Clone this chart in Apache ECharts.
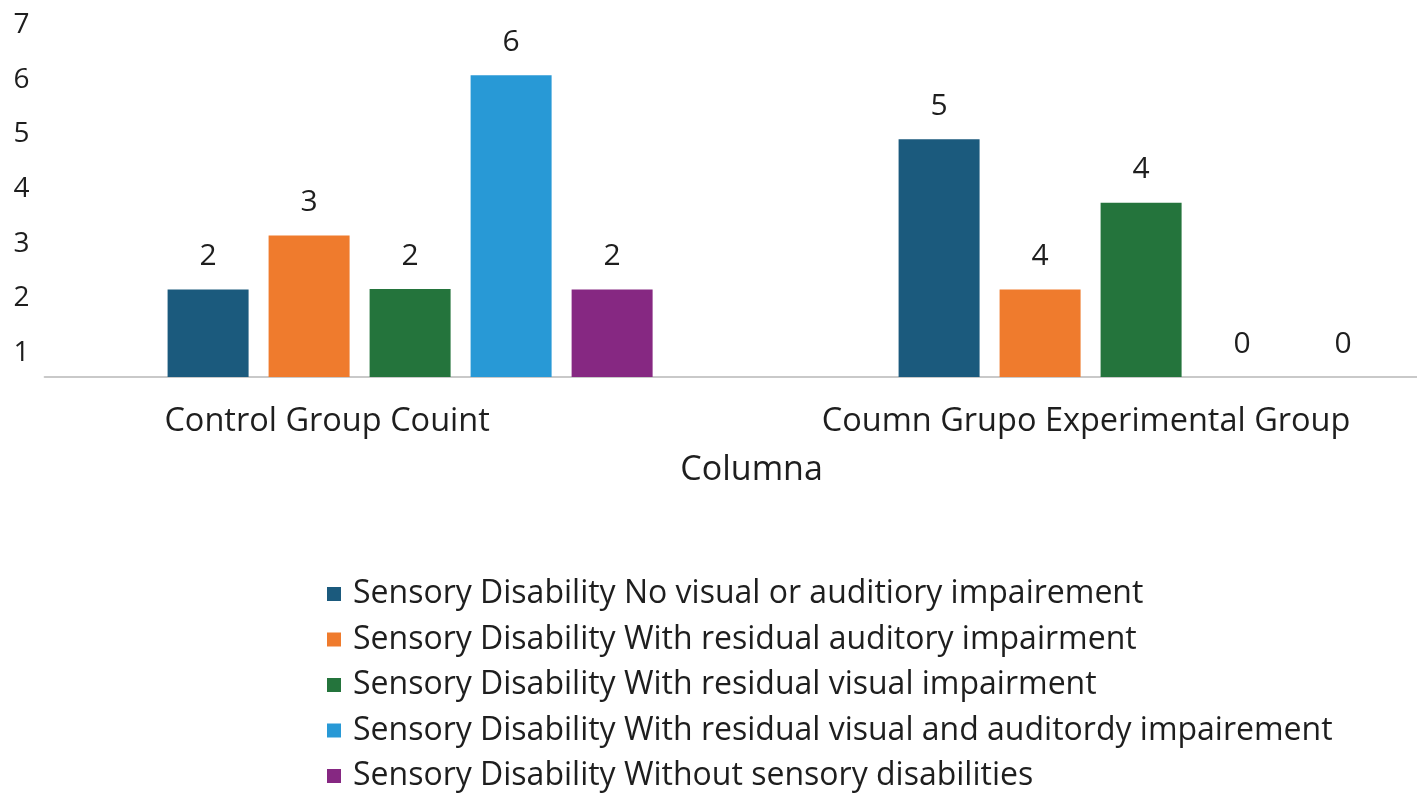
<!DOCTYPE html>
<html>
<head>
<meta charset="utf-8">
<script src="https://cdn.jsdelivr.net/npm/echarts@6/dist/echarts.min.js"></script>
<style>
html,body{margin:0;padding:0;background:#ffffff;}
#chart{width:1417px;height:799px;}
</style>
</head>
<body>
<div id="chart"></div>
<script>
// ---- data ----
const categories = ['Control Group Couint', 'Coumn Grupo Experimental Group'];
const seriesNames = [
  'Sensory Disability No visual or auditiory impairement',
  'Sensory Disability With residual auditory impairment',
  'Sensory Disability With residual visual impairment',
  'Sensory Disability With residual visual and auditordy impairement',
  'Sensory Disability Without sensory disabilities'
];
// bar heights above the baseline, in y-axis label units
const noImpairment      = [1.60, 4.35];
const auditoryResidual  = [2.59, 1.60];
const visualResidual    = [1.61, 3.19];
const visualAuditory    = [5.52, 0];
const withoutSensory    = [1.60, 0];
// printed data labels
const noImpairmentLbl     = ['2', '5'];
const auditoryResidualLbl = ['3', '4'];
const visualResidualLbl   = ['2', '4'];
const visualAuditoryLbl   = ['6', '0'];
const withoutSensoryLbl   = ['2', '0'];
// y-axis tick labels
const yTickLabels = ['1', '2', '3', '4', '5', '6', '7'];
const yTickOffset = 0.44; // first tick label sits this far above the baseline

const seriesValues = [noImpairment, auditoryResidual, visualResidual, visualAuditory, withoutSensory];
const seriesLabels = [noImpairmentLbl, auditoryResidualLbl, visualResidualLbl, visualAuditoryLbl, withoutSensoryLbl];
const colors = ['#1b5a7d', '#ef7b2d', '#24743c', '#2899d6', '#862882'];

const FONT = '"Open Sans", "Noto Sans", sans-serif';
const TEXT = '#1e1e1e';

const chart = echarts.init(document.getElementById('chart'), null, {renderer: 'canvas'});

const labelPadRight = [166, 110];

const option = {
  backgroundColor: '#ffffff',
  animation: false,
  color: colors,
  grid: {left: 44.6, top: 25, width: 1462, height: 352, outerBoundsMode: 'none', containLabel: false},
  xAxis: {
    type: 'category',
    data: categories.map((c, i) => ({value: c, textStyle: {padding: [0, labelPadRight[i], 0, 0]}})),
    axisLine: {show: true, lineStyle: {color: '#c9c9c9', width: 2}},
    axisTick: {show: false},
    axisLabel: {fontFamily: FONT, fontSize: 32.5, color: TEXT, margin: 28, lineHeight: 33},
    name: 'Columna',
    nameLocation: 'middle',
    nameGap: 76,
    nameTextStyle: {fontFamily: FONT, fontSize: 34, color: TEXT, padding: [0, 48, 0, 0], lineHeight: 34}
  },
  yAxis: {
    type: 'value',
    min: 0,
    max: 6.44,
    interval: 0.04,
    axisLine: {show: false},
    axisTick: {show: false},
    splitLine: {show: false},
    axisLabel: {
      fontFamily: FONT, fontSize: 28, color: TEXT, margin: 15, padding: [6, 0, 0, 0],
      formatter: function (v) {
        const k = v - yTickOffset;
        const r = Math.round(k);
        if (Math.abs(k - r) < 1e-6 && r >= 0 && r < yTickLabels.length) return yTickLabels[r];
        return '';
      }
    }
  },
  legend: {
    orient: 'vertical',
    left: 327,
    top: 578,
    height: 221,
    padding: 0,
    itemWidth: 28,
    itemHeight: 14,
    itemGap: 13.5,
    icon: 'path://M0,0 L14,0 L14,14 L0,14 Z',
    textStyle: {fontFamily: FONT, fontSize: 32, color: TEXT, lineHeight: 32},
    data: seriesNames
  },
  series: seriesNames.map((name, si) => ({
    name: name,
    type: 'bar',
    barWidth: 81,
    barGap: '24.7%',
    data: seriesValues[si],
    itemStyle: {color: colors[si]},
    label: {
      show: true,
      position: 'top',
      distance: 18,
      fontFamily: FONT,
      fontSize: 30,
      lineHeight: 30,
      color: TEXT,
      formatter: function (p) { return seriesLabels[si][p.dataIndex]; }
    }
  }))
};

chart.setOption(option);
</script>
</body>
</html>
